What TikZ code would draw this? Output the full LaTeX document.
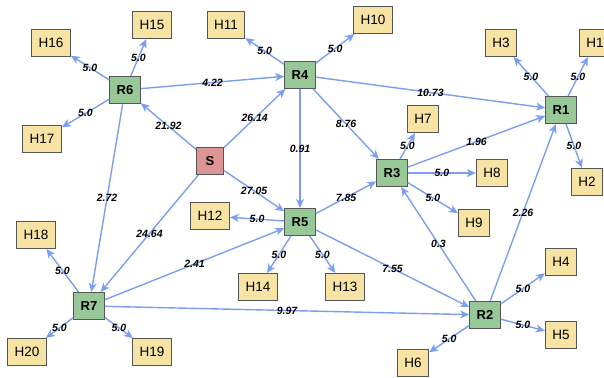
\documentclass[tikz,border=0pt]{standalone}
\usepackage{fontspec}
\setmainfont{Liberation Sans}
\usetikzlibrary{arrows.meta}
\definecolor{hfill}{HTML}{F7E4A5}
\definecolor{rfill}{HTML}{98C898}
\definecolor{sfill}{HTML}{DC9494}
\definecolor{bord}{HTML}{555555}
\definecolor{edgec}{HTML}{7B9EF0}
\tikzset{
  hbox/.style={draw=bord, line width=1pt, fill=hfill, inner xsep=7pt, inner ysep=0pt, minimum height=27pt, minimum width=27pt, font=\fontsize{13.5}{14}\selectfont},
  rbox/.style={draw=bord, line width=1pt, fill=rfill, inner xsep=7pt, inner ysep=0pt, minimum height=27pt, minimum width=27pt, font=\fontsize{13}{14}\selectfont\bfseries},
  sbox/.style={rbox, fill=sfill},
  conn/.style={draw=edgec, line width=1.4pt, -{Stealth[length=9pt,width=8pt,inset=2.5pt]}},
  lab/.style={font=\fontsize{10.5}{11}\selectfont\bfseries\itshape, inner sep=0pt, midway}
}
\begin{document}
\begin{tikzpicture}[x=1pt,y=-1pt]
\useasboundingbox (0,0) rectangle (604,377);
\clip (0,0) rectangle (604,377);
% main nodes
\node[sbox] (S) at (210,161) {S};
\node[rbox] (R1) at (561,110) {R1};
\node[rbox] (R2) at (485,315) {R2};
\node[rbox] (R3) at (392,173) {R3};
\node[rbox] (R4) at (300,75) {R4};
\node[rbox] (R5) at (300,222) {R5};
\node[rbox] (R6) at (125,90) {R6};
\node[rbox] (R7) at (89,306) {R7};
% leaves
\node[hbox] (H1) at (595,43) {H1};
\node[hbox] (H2) at (587,182) {H2};
\node[hbox] (H3) at (501,43) {H3};
\node[hbox] (H4) at (561,262) {H4};
\node[hbox] (H5) at (561,335) {H5};
\node[hbox] (H6) at (413,363) {H6};
\node[hbox] (H7) at (423,119) {H7};
\node[hbox] (H8) at (492,173) {H8};
\node[hbox] (H9) at (474,223) {H9};
\node[hbox] (H10) at (373,20) {H10};
\node[hbox] (H11) at (226,25) {H11};
\node[hbox] (H12) at (210,216) {H12};
\node[hbox] (H13) at (345,287) {H13};
\node[hbox] (H14) at (258,287) {H14};
\node[hbox] (H15) at (152,25) {H15};
\node[hbox] (H16) at (51,43) {H16};
\node[hbox] (H17) at (42,139) {H17};
\node[hbox] (H18) at (36,235) {H18};
\node[hbox] (H19) at (152,352) {H19};
\node[hbox] (H20) at (27,352) {H20};
% main connectors
\draw[conn] (R6) -- (R4) node[lab] {4.22};
\draw[conn] (S) -- (R6) node[lab] {21.92};
\draw[conn] (S) -- (R4) node[lab] {26.14};
\draw[conn] (S) -- (R5) node[lab] {27.05};
\draw[conn] (S) -- (R7) node[lab] {24.64};
\draw[conn] (R6) -- (R7) node[lab] {2.72};
\draw[conn] (R4) -- (R1) node[lab] {10.73};
\draw[conn] (R4) -- (R3) node[lab] {8.76};
\draw[conn] (R4) -- (R5) node[lab] {0.91};
\draw[conn] (R3) -- (R1) node[lab] {1.96};
\draw[conn] (R5) -- (R3) node[lab] {7.85};
\draw[conn] (R5) -- (R2) node[lab] {7.55};
\draw[conn] (R2) -- (R3) node[lab] {0.3};
\draw[conn] (R2) -- (R1) node[lab] {2.26};
\draw[conn] (R7) -- (R5) node[lab] {2.41};
\draw[conn] (R7) -- (R2) node[lab] {9.97};
% leaf connectors
\foreach \a/\b in {R1/H1,R1/H2,R1/H3,R2/H4,R2/H5,R2/H6,R3/H7,R3/H8,R3/H9,R4/H10,R4/H11,R5/H12,R5/H13,R5/H14,R6/H15,R6/H16,R6/H17,R7/H18,R7/H19,R7/H20}
  \draw[conn] (\a) -- (\b) node[lab] {5.0};
\end{tikzpicture}
\end{document}
